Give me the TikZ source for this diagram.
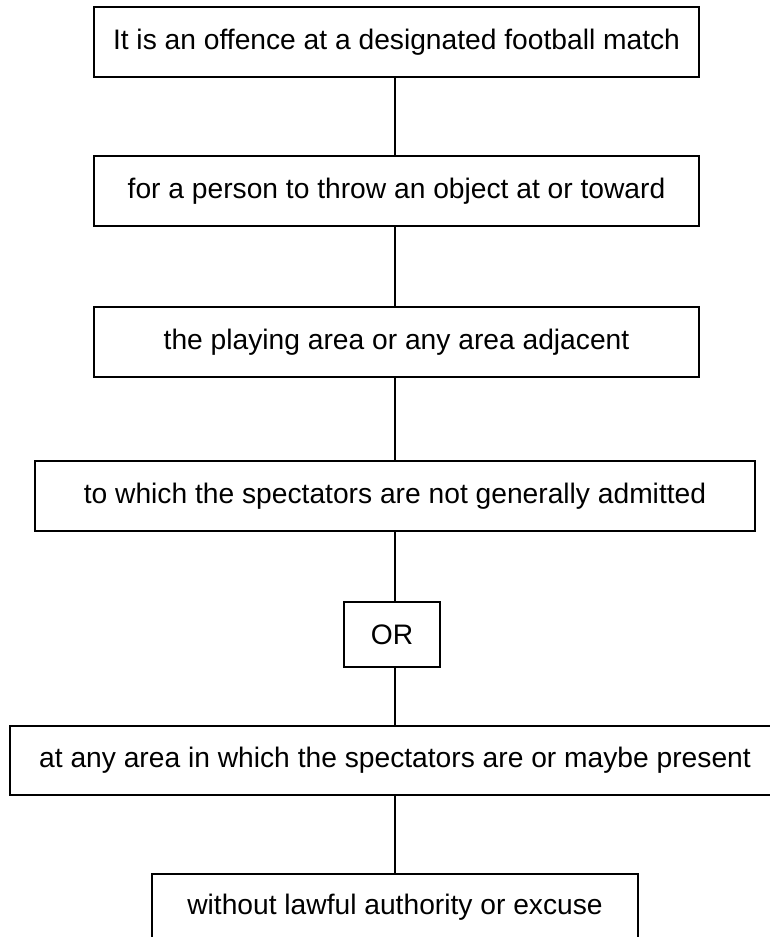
\documentclass[tikz,border=0pt]{standalone}
\usepackage{fontspec}
\setmainfont{Liberation Sans}
\begin{document}
\begin{tikzpicture}[x=1pt,y=-1pt,
  box/.style={draw=black, line width=1.4pt, inner sep=0pt, outer sep=0pt, fill=white,
    font=\fontsize{28.2}{32}\selectfont, anchor=center},
  link/.style={draw=black, line width=1.4pt}]
\useasboundingbox[fill=white] (0,0) rectangle (770,937);
\node[box, minimum width=605pt, minimum height=70pt] (b1) at (396.5,42) {It is an offence at a designated football match};
\node[box, minimum width=605pt, minimum height=70pt] (b2) at (396.5,191) {for a person to throw an object at or toward};
\node[box, minimum width=605pt, minimum height=70pt] (b3) at (396.5,342) {the playing area or any area adjacent};
\node[box, minimum width=720pt, minimum height=70pt] (b4) at (395,496) {to which the spectators are not generally admitted};
\node[box, minimum width=96pt, minimum height=65pt] (or) at (392,634.5) {OR};
\node[box, minimum width=770pt, minimum height=69pt] (b6) at (395,760.5) {at any area in which the spectators are or maybe present};
\node[box, minimum width=486pt, minimum height=66pt] (b7) at (395,907) {without lawful authority or excuse};
\draw[link] (b1.south -| 395,0) -- (b2.north -| 395,0);
\draw[link] (b2.south -| 395,0) -- (b3.north -| 395,0);
\draw[link] (b3.south -| 395,0) -- (b4.north -| 395,0);
\draw[link] (b4.south -| 395,0) -- (or.north -| 395,0);
\draw[link] (or.south -| 395,0) -- (b6.north -| 395,0);
\draw[link] (b6.south -| 395,0) -- (b7.north -| 395,0);
\end{tikzpicture}
\end{document}
